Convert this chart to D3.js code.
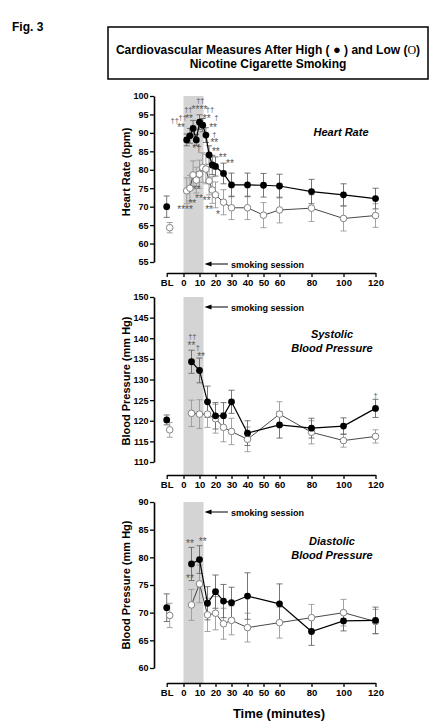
<!DOCTYPE html>
<html><head><meta charset="utf-8">
<script src="https://cdn.jsdelivr.net/npm/d3@7"></script>
<style>
body{margin:0;background:#fff}
svg{display:block}
text{font-family:"Liberation Sans",Arial,Helvetica,sans-serif}
</style>
</head><body>
<svg id="c" width="435" height="723"></svg>
<script>
// ---------- DATA ----------
const xTickValues = [-10.5, 0, 10, 20, 30, 40, 50, 60, 80, 100, 120];
const xTickLabels = ["BL", "0", "10", "20", "30", "40", "50", "60", "80", "100", "120"];
const BL_POS = -10.5;

// Heart rate
const hrTimes    = [2, 4, 6, 8, 10, 12, 14, 16, 18, 20, 25, 30, 40, 50, 60, 80, 100, 120];
const hrHigh     = [88.1, 89.2, 91.2, 88.1, 92.9, 92.1, 89.4, 84.0, 81.3, 80.9, 79.0, 75.9, 75.9, 75.8, 75.6, 74.1, 73.2, 72.2];
const hrHighErr  = [1.6, 2.0, 2.2, 1.5, 2.0, 1.8, 2.0, 2.5, 2.6, 2.6, 2.8, 3.2, 3.2, 3.2, 3.2, 3.3, 3.0, 2.8];
const hrLow      = [74.3, 75.0, 78.6, 77.2, 78.8, 80.6, 80.2, 77.0, 74.5, 73.2, 71.2, 69.7, 69.7, 67.7, 69.1, 69.6, 66.8, 67.6];
const hrLowErr   = [3.5, 3.5, 3.8, 3.5, 3.8, 4.0, 4.0, 3.8, 3.6, 3.5, 3.4, 3.2, 3.2, 3.4, 3.5, 3.6, 3.4, 3.2];
const hrBL       = [70.0, 64.3];   // high, low
const hrBLErr    = [2.9, 1.4];

// Systolic blood pressure
const sbpTimes   = [5, 10, 15, 20, 25, 30, 40, 60, 80, 100, 120];
const sbpHigh    = [134.3, 132.2, 124.6, 121.2, 121.2, 124.6, 117.0, 119.0, 118.2, 118.7, 123.0];
const sbpHighErr = [2.8, 3.0, 3.8, 3.2, 3.2, 2.8, 3.0, 3.2, 2.4, 2.0, 2.2];
const sbpLow     = [121.8, 121.6, 121.6, 120.5, 118.4, 117.4, 115.5, 121.6, 117.2, 115.2, 116.2];
const sbpLowErr  = [3.2, 3.5, 3.2, 3.5, 3.5, 3.2, 3.0, 3.0, 2.8, 1.6, 1.6];
const sbpBL      = [120.2, 117.8];
const sbpBLErr   = [1.2, 1.8];

// Diastolic blood pressure
const dbpTimes   = [5, 10, 15, 20, 25, 30, 40, 60, 80, 100, 120];
const dbpHigh    = [78.8, 79.6, 71.7, 73.8, 72.1, 71.8, 73.0, 71.6, 66.6, 68.5, 68.6];
const dbpHighErr = [3.0, 2.5, 3.0, 3.0, 3.0, 2.8, 4.2, 3.6, 2.5, 1.8, 2.4];
const dbpLow     = [71.4, 75.2, 69.6, 69.9, 68.0, 68.6, 67.3, 68.2, 69.1, 70.0, 68.4];
const dbpLowErr  = [2.8, 3.4, 3.0, 3.0, 2.8, 2.6, 2.6, 2.8, 2.4, 2.4, 2.2];
const dbpBL      = [70.9, 69.5];
const dbpBLErr   = [2.5, 2.2];

// Significance marks: [text, minute, value]
const hrMarks = [
  ["††", 10.5, 98.8],
  ["††", 3, 96.6], ["**", 7.5, 96.6], ["**", 12.5, 96.6], ["††", 16.5, 96.6],
  ["††", -0.5, 94.3], ["**", 3.5, 94.3], ["**", 14.5, 94.3], ["†", 20.5, 94.3],
  ["††", -5.5, 93.5],
  ["**", -1.5, 91.8], ["**", 18.5, 91.8],
  ["†", 19.3, 89.8], ["**", 19.3, 87.6], ["*†", 8.4, 86.1],
  ["**", 20.2, 85.3], ["**", 24.5, 83.6], ["**", 29, 81.9],
  ["**", 8.2, 74.9], ["**", 9.7, 72.6], ["**", 5.5, 71.2], ["**", 14.5, 72.0],
  ["****", 1.0, 69.4], ["**", 16.0, 69.6], ["*", 21.5, 68.2]
];
const sbpMarks = [["††", 5.5, 140.6], ["**", 5, 138.4], ["†", 9, 138.0], ["**", 11, 135.9], ["†", 120, 126.3]];
const dbpMarks = [["**", 4, 82.6], ["**", 12, 83.0], ["**", 4, 76.4]];

// ---------- LAYOUT ----------
const svg = d3.select("#c");
const x = d3.scaleLinear().domain([BL_POS, 120]).range([166.7, 375.5]);
const axisX = 154;

const panels = [
  {yDom:[55,100], yRng:[262,96], xAxisY:273, ticks:d3.range(55,101,5), ylab:"Heart Rate (bpm)", ylabY:172,
   title:["Heart Rate"], titleX:341, titleY:136, smokeY:264,
   times:hrTimes, high:hrHigh, highErr:hrHighErr, low:hrLow, lowErr:hrLowErr, bl:hrBL, blErr:hrBLErr, marks:hrMarks},
  {yDom:[110,150], yRng:[462,297], xAxisY:475, ticks:d3.range(110,151,5), ylab:"Blood Pressure (mm Hg)", ylabY:381,
   title:["Systolic","Blood Pressure"], titleX:332, titleY:338, smokeY:307,
   times:sbpTimes, high:sbpHigh, highErr:sbpHighErr, low:sbpLow, lowErr:sbpLowErr, bl:sbpBL, blErr:sbpBLErr, marks:sbpMarks},
  {yDom:[60,90], yRng:[668,502], xAxisY:683, ticks:d3.range(60,91,5), ylab:"Blood Pressure (mm Hg)", ylabY:585,
   title:["Diastolic","Blood Pressure"], titleX:332, titleY:545, smokeY:512,
   times:dbpTimes, high:dbpHigh, highErr:dbpHighErr, low:dbpLow, lowErr:dbpLowErr, bl:dbpBL, blErr:dbpBLErr, marks:dbpMarks}
];

// Fig label and title box
svg.append("text").attr("x", 12).attr("y", 31).attr("font-size", 12).attr("font-weight", "bold").text("Fig. 3");
svg.append("rect").attr("x", 108).attr("y", 27).attr("width", 320).attr("height", 52)
  .attr("fill", "#fff").attr("stroke", "#000").attr("stroke-width", 1.5);
const t1 = svg.append("text").attr("x", 268).attr("y", 54).attr("text-anchor", "middle")
  .attr("font-size", 12).attr("font-weight", "bold");
t1.append("tspan").text("Cardiovascular Measures After High ( ");
t1.append("tspan").attr("font-size", 13).text("●");
t1.append("tspan").text(" ) and Low (");
t1.append("tspan").attr("font-weight", "normal").attr("font-family", "Liberation Serif, serif").text("O");
t1.append("tspan").text(")");
svg.append("text").attr("x", 268).attr("y", 68).attr("text-anchor", "middle")
  .attr("font-size", 12).attr("font-weight", "bold").text("Nicotine Cigarette Smoking");

panels.forEach(p => {
  const y = d3.scaleLinear().domain(p.yDom).range(p.yRng);
  const g = svg.append("g");

  // shaded smoking period
  g.append("rect").attr("x", x(0)).attr("y", p.yRng[1])
    .attr("width", x(12.5) - x(0)).attr("height", p.xAxisY - p.yRng[1]).attr("fill", "#d4d4d4");

  // y axis
  const ya = g.append("g").attr("transform", `translate(${axisX},0)`)
    .call(d3.axisLeft(y).tickValues(p.ticks).tickSize(4).tickSizeOuter(0).tickPadding(1.5));
  ya.select(".domain").attr("stroke-width", 1.6);
  ya.selectAll(".tick line").attr("stroke-width", 1.3);
  ya.selectAll("text").attr("font-size", 9).attr("font-weight", "bold")
    .attr("font-family", "Liberation Sans, Arial, sans-serif").attr("fill", "#000");

  // x axis
  const xa = g.append("g").attr("transform", `translate(0,${p.xAxisY})`)
    .call(d3.axisBottom(x).tickValues(xTickValues)
      .tickFormat((d, i) => xTickLabels[i]).tickSize(4).tickSizeOuter(0).tickPadding(2));
  xa.select(".domain").attr("stroke-width", 1.6);
  xa.selectAll(".tick line").attr("stroke-width", 1.3);
  xa.selectAll("text").attr("font-size", 9.5).attr("font-weight", "bold")
    .attr("font-family", "Liberation Sans, Arial, sans-serif").attr("fill", "#000");

  // y label
  g.append("text").attr("transform", `translate(130,${p.ylabY}) rotate(-90)`)
    .attr("text-anchor", "middle").attr("font-size", 11).attr("font-weight", "bold").text(p.ylab);

  // panel title
  p.title.forEach((s, i) => {
    g.append("text").attr("x", p.titleX).attr("y", p.titleY + i * 14).attr("text-anchor", "middle")
      .attr("font-size", 11).attr("font-weight", "bold").attr("font-style", "italic").text(s);
  });

  // smoking session arrow
  g.append("line").attr("x1", x(12.5) + 6).attr("x2", 228).attr("y1", p.smokeY).attr("y2", p.smokeY)
    .attr("stroke", "#000").attr("stroke-width", 1);
  const ax0 = x(12.5) + 1;
  g.append("path").attr("d", `M${ax0},${p.smokeY} l7,-2.5 l0,5 z`).attr("fill", "#000");
  g.append("text").attr("x", 231).attr("y", p.smokeY + 3.5).attr("font-size", 9).attr("font-weight", "bold")
    .text("smoking session");

  const lowD = p.times.map((t, i) => ({t, v: p.low[i], e: p.lowErr[i]}));
  const highD = p.times.map((t, i) => ({t, v: p.high[i], e: p.highErr[i]}));
  const blD = [{t: BL_POS, v: p.bl[0], e: p.blErr[0], hi: true, dx: 0},
               {t: BL_POS, v: p.bl[1], e: p.blErr[1], hi: false, dx: 3}];

  function errBars(data, color) {
    const eg = g.append("g").attr("stroke", color).attr("stroke-width", 0.9).attr("fill", "none");
    data.forEach(d => {
      const cx = x(d.t) + (d.dx || 0);
      eg.append("line").attr("x1", cx).attr("x2", cx).attr("y1", y(d.v - d.e)).attr("y2", y(d.v + d.e));
      eg.append("line").attr("x1", cx - 3).attr("x2", cx + 3).attr("y1", y(d.v - d.e)).attr("y2", y(d.v - d.e));
      eg.append("line").attr("x1", cx - 3).attr("x2", cx + 3).attr("y1", y(d.v + d.e)).attr("y2", y(d.v + d.e));
    });
  }
  errBars(lowD, "#9a9a9a");
  errBars(blD.filter(d => !d.hi), "#9a9a9a");
  errBars(highD, "#666");
  errBars(blD.filter(d => d.hi), "#666");

  const line = d3.line().x(d => x(d.t)).y(d => y(d.v));
  g.append("path").datum(lowD).attr("d", line).attr("fill", "none").attr("stroke", "#333").attr("stroke-width", 0.9);
  g.append("path").datum(highD).attr("d", line).attr("fill", "none").attr("stroke", "#000").attr("stroke-width", 1.2);

  // significance marks
  p.marks.forEach(m => {
    const star = m[0].indexOf("*") >= 0;
    g.append("text").attr("x", x(m[1])).attr("y", y(m[2]) + (star ? 4.5 : 3))
      .attr("text-anchor", "middle").attr("font-size", star ? 10 : 7.5)
      .attr("fill", "#555").text(m[0]);
  });

  // points
  g.selectAll(null).data(lowD.concat(blD.filter(d => !d.hi))).enter().append("circle")
    .attr("cx", d => x(d.t) + (d.dx || 0)).attr("cy", d => y(d.v)).attr("r", 3.3)
    .attr("fill", "#fff").attr("stroke", "#777").attr("stroke-width", 0.9);
  g.selectAll(null).data(highD.concat(blD.filter(d => d.hi))).enter().append("circle")
    .attr("cx", d => x(d.t)).attr("cy", d => y(d.v)).attr("r", 3.4).attr("fill", "#000");
});

svg.append("text").attr("x", 279).attr("y", 718).attr("text-anchor", "middle")
  .attr("font-size", 13).attr("font-weight", "bold").text("Time (minutes)");
</script>
</body></html>
